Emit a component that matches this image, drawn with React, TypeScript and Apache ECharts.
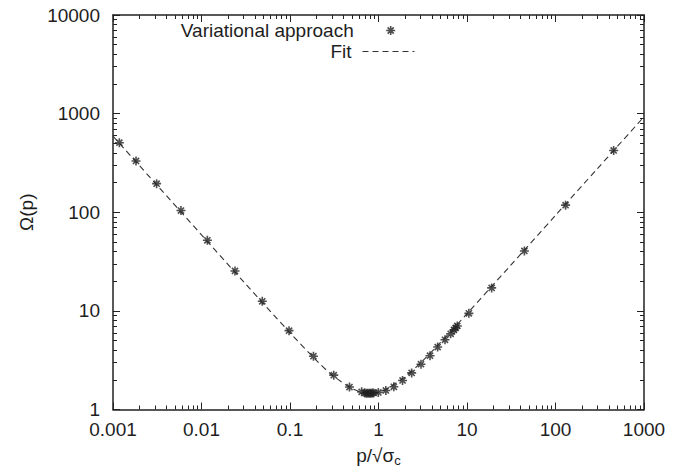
import React, { useEffect, useRef } from 'react';
import * as echarts from 'echarts';

const xTickLabels = ['0.001', '0.01', '0.1', '1', '10', '100', '1000'];
const yTickLabels = ['1', '10', '100', '1000', '10000'];

const variationalX = [0.00118, 0.00182, 0.00311, 0.00586, 0.01165, 0.0239, 0.0486, 0.0975, 0.184, 0.312, 0.47, 0.645, 0.7, 0.73, 0.76, 0.79, 0.82, 0.85, 0.88, 0.995, 1.21, 1.49, 1.87, 2.37, 3.02, 3.82, 4.66, 5.64, 6.54, 7.13, 7.44, 7.77, 10.5, 19.0, 44.5, 130, 454];
const variationalY = [507, 331, 195, 104, 52, 25.4, 12.5, 6.3, 3.47, 2.23, 1.69, 1.51, 1.47, 1.46, 1.46, 1.46, 1.46, 1.47, 1.47, 1.49, 1.56, 1.7, 1.97, 2.35, 2.88, 3.51, 4.3, 5.09, 5.85, 6.42, 6.71, 7.03, 9.44, 17.1, 40.5, 118, 423];

const fitX = [0.001, 0.003, 0.01, 0.03, 0.1, 0.2, 0.3, 0.5, 0.65, 0.8, 1.0, 1.2, 1.5, 2, 3, 5, 10, 30, 100, 300, 1000];
const fitY = [590, 197, 59, 19.7, 6.0, 3.13, 2.23, 1.63, 1.5, 1.465, 1.5, 1.59, 1.8, 2.14, 2.98, 4.76, 9.36, 27.9, 93, 279, 930];

const TEXT = '#1e1e1e';
const FONT = 'Liberation Sans, Arial, Helvetica, sans-serif';
const FS = 19;

const fmt = (labels: string[]) => (v: number) => {
  const hit = labels.find((l) => Math.abs(Math.log10(Number(l)) - Math.log10(v)) < 1e-6);
  return hit ?? '';
};

export default function App() {
  const ref = useRef<HTMLDivElement>(null);
  useEffect(() => {
    if (!ref.current) return;
    const chart = echarts.init(ref.current, null, { renderer: 'svg' });
    const lineStyle = { color: '#222', width: 1.5 };
    const tick = { show: true, inside: true, length: 7, lineStyle: { color: '#222', width: 1 } };
    const minor = { show: true, splitNumber: 9, length: 4, lineStyle: { color: '#222', width: 1 } };
    const makeX = (position: string, showLabel: boolean, extra: any = {}) => ({
      type: 'log',
      logBase: 10,
      min: 0.001,
      max: 1000,
      position,
      axisLine: { show: true, lineStyle },
      axisTick: tick,
      minorTick: minor,
      splitLine: { show: false },
      minorSplitLine: { show: false },
      axisLabel: {
        show: showLabel,
        formatter: fmt(xTickLabels),
        fontSize: FS,
        lineHeight: 15,
        fontFamily: FONT,
        color: TEXT,
        margin: 12,
      },
      ...extra,
    });
    const makeY = (position: string, showLabel: boolean, extra: any = {}) => ({
      type: 'log',
      logBase: 10,
      min: 1,
      max: 10000,
      position,
      axisLine: { show: true, lineStyle },
      axisTick: tick,
      minorTick: minor,
      splitLine: { show: false },
      minorSplitLine: { show: false },
      axisLabel: {
        show: showLabel,
        formatter: fmt(yTickLabels),
        fontSize: FS,
        lineHeight: 15,
        fontFamily: FONT,
        color: TEXT,
        margin: 13,
      },
      ...extra,
    });
    const symbolPath = 'path://M0,5L10,5M5,0L5,10M1.6,1.6L8.4,8.4M8.4,1.6L1.6,8.4';
    const option: any = {
      animation: false,
      backgroundColor: '#fff',
      grid: { left: 113, right: 50, top: 15, bottom: 59, containLabel: false },
      xAxis: [
        makeX('bottom', true, {
          name: '{a|p/√σ}{b|c}',
          nameLocation: 'middle',
          nameGap: 35,
          nameTextStyle: {
            rich: {
              a: { fontSize: FS, fontFamily: FONT, color: TEXT, lineHeight: 22 },
              b: { fontSize: 13, fontFamily: FONT, color: TEXT, lineHeight: 13, padding: [10, 0, 0, 0] },
            },
          },
        }),
        makeX('top', false),
      ],
      yAxis: [
        makeY('left', true, {
          name: 'Ω(p)',
          nameLocation: 'middle',
          nameRotate: 90,
          nameGap: 76,
          nameTextStyle: { fontSize: FS, fontFamily: FONT, color: TEXT },
        }),
        makeY('right', false),
      ],
      legend: [
        {
          data: ['Variational approach'],
          right: 298,
          top: 21,
          padding: 0,
          itemWidth: 52,
          itemHeight: 9,
          itemStyle: { borderWidth: 1.6, borderColor: '#222' },
          textStyle: { fontSize: FS, fontFamily: FONT, color: TEXT, padding: [0, 6, 0, 0] },
          align: 'right',
          selectedMode: false,
        },
        {
          data: ['Fit'],
          right: 279,
          top: 42,
          padding: 0,
          itemWidth: 52,
          itemHeight: 14,
          itemStyle: { color: 'transparent', borderColor: 'transparent', borderWidth: 0, opacity: 0 },
          lineStyle: { color: '#333', width: 1, type: [6, 4], opacity: 1 },
          textStyle: { fontSize: FS, fontFamily: FONT, color: TEXT, padding: [0, 6, 0, 0] },
          align: 'right',
          selectedMode: false,
        },
      ],
      series: [
        {
          name: 'Fit',
          type: 'line',
          data: fitX.map((x, i) => [x, fitY[i]]),
          smooth: 0.3,
          symbol: 'none',
          showSymbol: false,
          lineStyle: { color: '#333', width: 1.1, type: [6, 4] },
          itemStyle: { color: '#333' },
          z: 2,
        },
        {
          name: 'Variational approach',
          type: 'scatter',
          data: variationalX.map((x, i) => [x, variationalY[i]]),
          symbol: symbolPath,
          symbolSize: 9,
          itemStyle: { color: '#222', borderColor: '#222', borderWidth: 1.6 },
          z: 3,
        },
      ],
    };
    chart.setOption(option);
    return () => chart.dispose();
  }, []);
  return <div ref={ref} style={{ position: 'absolute', left: 0, top: 0, width: 694, height: 472 }} />;
}
